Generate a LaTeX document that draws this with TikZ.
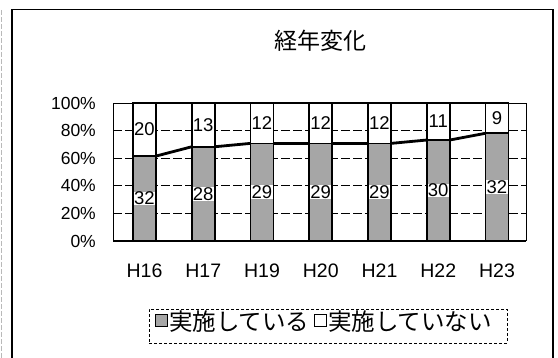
\documentclass[tikz,border=0pt]{standalone}
\usepackage{fontspec}
\setmainfont{Liberation Sans}
\newfontfamily\jpfont{Noto Sans CJK JP}
\tikzset{
  frameline/.style={line width=1.4pt},
  gridline/.style={line width=0.6pt, dash pattern=on 9pt off 3pt},
  barfill/.style={fill=black!35},
  barline/.style={line width=1.6pt},
  serline/.style={line width=2.8pt},
  dlab/.style={font=\fontsize{18.5}{18.5}\selectfont, inner sep=0.3pt, fill=white},
  ylab/.style={font=\fontsize{17.5}{17.5}\selectfont, anchor=east, inner sep=0pt},
  xlab/.style={font=\fontsize{19.5}{19.5}\selectfont, inner sep=0pt},
  jptext/.style={font=\jpfont\fontsize{23.5}{23.5}\selectfont, inner sep=0pt},
  legmark/.style={draw, line width=1pt, minimum size=12pt, inner sep=0pt},
}
\begin{document}
\begin{tikzpicture}[x=1pt,y=-1pt]
\useasboundingbox (0,0) rectangle (558,358);
% frames
\draw[gray!55, line width=1pt, dash pattern=on 5pt off 2pt] (1.5,10) -- (1.5,358);
\draw[frameline] (12,358) -- (12,9.5) -- (553,9.5) -- (553,358);
% title
\node[jptext, font=\jpfont\fontsize{23}{23}\selectfont] (title) at (320,41) {経年変化};
% plot area
\draw[line width=0.8pt] (113,241) -- (113,103) -- (526,103) -- (526,241);
\foreach \p in {0.2,0.4,0.6,0.8}
  \draw[gridline] (113,{241-138*\p}) -- (526,{241-138*\p});
\draw[line width=1.8pt] (113,241) -- (526,241);
% y labels
\foreach \p/\t in {0/0,1/20,2/40,3/60,4/80,5/100}
  \node[ylab] (y\p) at (96,{241-27.6*\p}) {\t\%};
% bars
\foreach \i/\a/\b/\lab in {0/32/20/H16,1/28/13/H17,2/29/12/H19,3/29/12/H20,4/29/12/H21,5/30/11/H22,6/32/9/H23}{
  \pgfmathsetmacro\cx{144.5+58.75*\i}
  \pgfmathsetmacro\yt{241-138*\a/(\a+\b)}
  \fill[barfill] (\cx-11.5,241) rectangle (\cx+11.5,\yt);
  \fill[white] (\cx-11.5,\yt) rectangle (\cx+11.5,103);
  \draw[barline] (\cx-11.5,241) rectangle (\cx+11.5,103);
  \draw[barline] (\cx-11.5,\yt) -- (\cx+11.5,\yt);
  \coordinate (L\i) at (\cx-11.5,\yt);
  \coordinate (R\i) at (\cx+11.5,\yt);
  \coordinate (TL\i) at (\cx-11.5,103);
  \coordinate (TR\i) at (\cx+11.5,103);
  \node[dlab] (a\i) at (\cx,{(241+\yt)/2}) {\a};
  \node[dlab] (b\i) at (\cx,{(103+\yt)/2}) {\b};
  \node[xlab] (x\i) at (\cx,271) {\lab};
}
% series lines
\foreach \i [evaluate=\i as \j using int(\i+1)] in {0,...,5}{
  \draw[serline] (R\i) -- (L\j);
  \draw[serline] (TR\i) -- (TL\j);
}
% legend
\node[draw, line width=0.8pt, densely dashed, minimum width=358pt, minimum height=34pt, inner sep=0pt] (legend) at (328,326) {};
\node[legmark, barfill] (m1) at (161,321) {};
\node[jptext, anchor=west] (t1) at (169,322) {実施している};
\node[legmark, fill=white] (m2) at (320,321) {};
\node[jptext, anchor=west] (t2) at (328,322) {実施していない};
\end{tikzpicture}
\end{document}
